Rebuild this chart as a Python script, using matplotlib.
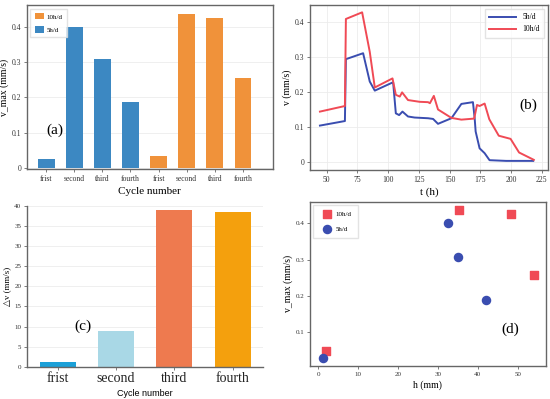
import matplotlib
matplotlib.use("Agg")
import matplotlib.pyplot as plt

plt.rcParams["font.family"] = ["Liberation Serif", "DejaVu Sans"]

# (a) 最大速度柱状图
cycles = ["frist", "second", "third", "fourth"]
vmax_5h = [0.024, 0.401, 0.308, 0.186]
vmax_10h = [0.034, 0.436, 0.425, 0.256]

# (b) 速度随时间变化
t_5h = [44.6, 64.9, 65.7, 79.7, 85.1, 89.2, 104.1, 106.3, 109.0, 111.7, 116.2,
        121.6, 132.5, 136.6, 140.6, 151.5, 159.6, 169.0, 170.4, 171.2, 174.4,
        178.5, 182.5, 196.0, 218.0]
v_5h = [0.103, 0.116, 0.293, 0.310, 0.229, 0.203, 0.227, 0.138, 0.133, 0.143,
        0.129, 0.126, 0.124, 0.122, 0.108, 0.124, 0.165, 0.170, 0.124, 0.086,
        0.038, 0.024, 0.004, 0.002, 0.002]
t_10h = [44.6, 64.9, 65.7, 78.9, 85.1, 89.2, 103.6, 106.3, 109.5, 111.4, 116.2,
         125.7, 132.5, 134.0, 137.2, 140.6, 151.5, 159.6, 170.0, 172.3, 174.4,
         178.5, 182.3, 190.0, 199.6, 206.5, 218.5]
v_10h = [0.143, 0.159, 0.408, 0.427, 0.314, 0.212, 0.238, 0.191, 0.186, 0.198,
         0.176, 0.171, 0.170, 0.167, 0.188, 0.149, 0.125, 0.120, 0.123, 0.162,
         0.159, 0.166, 0.121, 0.074, 0.065, 0.026, 0.005]

# (c) 速度差
dv = [1.1, 8.8, 39.0, 38.6]
dv_colors = ["#1ba0d8", "#a9d8e6", "#ee7a4f", "#f4a00d"]

# (d) 最大速度与h的关系
h_10h = [1.9, 35.3, 48.2, 54.1]
h_5h = [1.1, 32.4, 35.1, 42.0]
vmax_10h_d = [0.048, 0.437, 0.426, 0.257]
vmax_5h_d = [0.027, 0.402, 0.308, 0.187]

blue = "#3c88c2"
orange = "#f0923a"
line_blue = "#3a4db0"
line_red = "#f04a55"
spine_c = "#666666"
grid_c = "#ececec"

fig = plt.figure(figsize=(5.5, 3.99), dpi=100)
ax_a = fig.add_axes([0.049, 0.576, 0.447, 0.411])
ax_b = fig.add_axes([0.5636, 0.574, 0.4327, 0.4135])
ax_c = fig.add_axes([0.049, 0.081, 0.429, 0.4027])
ax_d = fig.add_axes([0.5636, 0.0827, 0.4285, 0.4118])


def style_axes(ax, size=5.5):
    for s in ax.spines.values():
        s.set_color(spine_c)
        s.set_linewidth(1.0)
    ax.tick_params(labelsize=size, length=2, width=0.6, color=spine_c,
                   labelcolor="#333333", pad=2)


# ---- (a) ----
n = len(cycles)
ax_a.bar(range(n), vmax_5h, width=0.6, color=blue, label="5h/d", zorder=2)
ax_a.bar(range(n, 2 * n), vmax_10h, width=0.6, color=orange, label="10h/d", zorder=2)
ax_a.set_xticks(range(2 * n))
ax_a.set_xticklabels(cycles + cycles)
ax_a.set_xlim(-0.68, 8.06)
ax_a.set_ylim(-0.004, 0.462)
ax_a.set_yticks([0, 0.1, 0.2, 0.3, 0.4])
ax_a.set_yticklabels(["0", "0.1", "0.2", "0.3", "0.4"])
ax_a.yaxis.grid(True, color=grid_c, linewidth=0.6, zorder=0)
style_axes(ax_a)
ax_a.set_xlabel("Cycle number", fontsize=8, labelpad=3)
ax_a.set_ylabel("v_max (mm/s)", fontsize=7, labelpad=2)
h, l = ax_a.get_legend_handles_labels()
ax_a.legend(h[::-1], l[::-1], loc="upper left", fontsize=5, frameon=True,
            handlelength=1.3, handleheight=1.1, borderpad=0.6, labelspacing=1.0,
            handletextpad=0.4, borderaxespad=0.5,
            edgecolor="#dddddd", fancybox=False)
ax_a.text(0.08, 0.215, "(a)", transform=ax_a.transAxes, fontsize=11)

# ---- (b) ----
ax_b.plot(t_5h, v_5h, color=line_blue, linewidth=1.4, label="5h/d")
ax_b.plot(t_10h, v_10h, color=line_red, linewidth=1.4, label="10h/d")
ax_b.set_xlim(36.5, 230)
ax_b.set_ylim(-0.024, 0.448)
ax_b.set_xticks([50, 75, 100, 125, 150, 175, 200, 225])
ax_b.set_yticks([0, 0.1, 0.2, 0.3, 0.4])
ax_b.set_yticklabels(["0", "0.1", "0.2", "0.3", "0.4"])
ax_b.grid(True, color=grid_c, linewidth=0.6)
style_axes(ax_b)
ax_b.set_xlabel("t (h)", fontsize=8, labelpad=3)
ax_b.set_ylabel("v (mm/s)", fontsize=7, labelpad=2)
ax_b.legend(loc="upper right", fontsize=5.5, handlelength=3.5,
            edgecolor="#dddddd", fancybox=False, borderpad=0.6)
ax_b.text(0.88, 0.37, "(b)", transform=ax_b.transAxes, fontsize=11)

# ---- (c) ----
ax_c.bar(range(len(dv)), dv, width=0.62, color=dv_colors, zorder=2)
ax_c.set_xticks(range(len(dv)))
ax_c.set_xticklabels(cycles, fontsize=10)
ax_c.set_xlim(-0.53, 3.52)
ax_c.set_ylim(0, 40)
ax_c.set_yticks(range(0, 41, 5))
ax_c.yaxis.grid(True, color=grid_c, linewidth=0.6, zorder=0)
style_axes(ax_c, size=5)
ax_c.tick_params(axis="x", labelsize=10, labelcolor="#222222")
ax_c.spines["top"].set_visible(False)
ax_c.spines["right"].set_visible(False)
ax_c.set_xlabel("Cycle number", fontsize=6.5, family=["Liberation Sans"], labelpad=3)
ax_c.set_ylabel("\u25b3v (mm/s)", fontsize=6.5, labelpad=2)
ax_c.text(0.2, 0.23, "(c)", transform=ax_c.transAxes, fontsize=11)

# ---- (d) ----
ax_d.scatter(h_10h, vmax_10h_d, marker="s", s=30, color=line_red, label="10h/d", zorder=3)
ax_d.scatter(h_5h, vmax_5h_d, marker="o", s=34, color=line_blue, label="5h/d", zorder=3)
ax_d.set_xlim(-2.1, 57)
ax_d.set_ylim(0.006, 0.46)
ax_d.set_xticks([0, 10, 20, 30, 40, 50])
ax_d.set_yticks([0.1, 0.2, 0.3, 0.4])
style_axes(ax_d, size=5)
ax_d.set_xlabel("h (mm)", fontsize=7, labelpad=3)
ax_d.set_ylabel("v_max (mm/s)", fontsize=7, labelpad=2)
ax_d.legend(loc="upper left", fontsize=5, edgecolor="#dddddd", fancybox=False,
            borderpad=0.9, labelspacing=1.3, handletextpad=0.3)
ax_d.text(0.81, 0.2, "(d)", transform=ax_d.transAxes, fontsize=11)

fig.savefig("out.png", dpi=100)
